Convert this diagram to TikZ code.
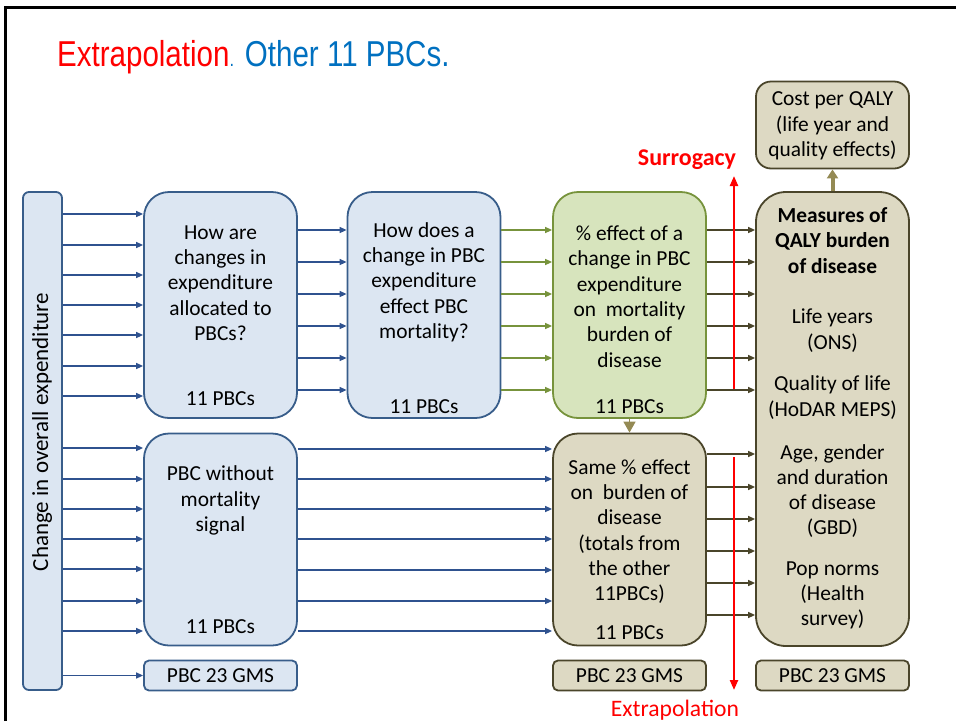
\documentclass[tikz,border=0pt]{standalone}
\usepackage{fontspec}
\setmainfont{Carlito}
\newfontfamily\titlefont[FakeStretch=0.82]{Liberation Sans}
\usetikzlibrary{arrows.meta}
\definecolor{bfill}{HTML}{DCE6F2}
\definecolor{bline}{HTML}{385D8A}
\definecolor{barrow}{HTML}{2F528F}
\definecolor{gfill}{HTML}{D7E4BD}
\definecolor{gline}{HTML}{77933C}
\definecolor{tfill}{HTML}{DDD9C3}
\definecolor{tline}{HTML}{4A452A}
\definecolor{olive}{HTML}{948A54}
\definecolor{tblue}{HTML}{0070C0}
\begin{document}
\begin{tikzpicture}[x=1pt,y=-1pt,
  bigbox/.style={line width=1.8pt, rounded corners=25pt, minimum width=153pt, inner sep=0pt},
  bluebox/.style={bigbox, draw=bline, fill=bfill},
  greenbox/.style={bigbox, draw=gline, fill=gfill},
  tanbox/.style={bigbox, draw=tline, fill=tfill},
  smallbox/.style={line width=1.8pt, rounded corners=5pt, minimum width=153pt, minimum height=30pt, inner sep=0pt},
  txt/.style={font=\fontsize{21.4}{25.3}\selectfont, align=center, inner sep=0pt, text=black},
  barr/.style={draw=barrow, line width=1.5pt, -{Triangle[length=7pt,width=6pt]}},
  garr/.style={draw=gline, line width=1.5pt, -{Triangle[length=7pt,width=6pt]}},
  tarr/.style={draw=tline, line width=1.5pt, -{Triangle[length=7pt,width=6pt]}},
  redarr/.style={draw=red, line width=2.2pt, -{Triangle[length=10pt,width=8pt]}},
]
\useasboundingbox (0,0) rectangle (956,721);
% slide frame
\draw[line width=3pt] (5,721) -- (5,7) -- (956,7);

% title
\node[anchor=base west, inner sep=0pt, font=\titlefont\fontsize{36}{40}\selectfont] (title) at (57,66)
  {\textcolor{red}{Extrapolation}\textcolor{tblue}{\fontsize{20}{20}\selectfont.} \textcolor{tblue}{Other 11 PBCs.}};

% left bar
\node[draw=bline, fill=bfill, line width=1.8pt, rounded corners=6pt, minimum width=39pt, minimum height=498pt, inner sep=0pt] (bar) at (42.5,441) {};
\node[txt, rotate=90, font=\fontsize{23}{25}\selectfont] (bartxt) at (42,432) {Change in overall expenditure};

% boxes
\node[bluebox, minimum height=226pt] (b1) at (220.5,305) {};
\node[bluebox, minimum height=226pt] (b2) at (424,305) {};
\node[greenbox, minimum height=226pt] (b3) at (629.5,305) {};
\node[bluebox, minimum height=212pt] (b4) at (220.5,539.5) {};
\node[tanbox, minimum height=212pt] (b5) at (629.5,539.5) {};
\node[tanbox, rounded corners=30pt, minimum height=454pt] (b6) at (832.5,419) {};
\node[tanbox, rounded corners=15pt, minimum height=87pt] (b7) at (832.5,125) {};

\node[smallbox, draw=bline, fill=bfill] (g1) at (220.5,675.5) {};
\node[smallbox, draw=tline, fill=tfill] (g2) at (629.5,675.5) {};
\node[smallbox, draw=tline, fill=tfill] (g3) at (832.5,675.5) {};

% box texts
\node[txt] (b1t) at (220.5,283) {How are\\changes in\\expenditure\\allocated to\\PBCs?};
\node[txt] (b1n) at (220.5,399) {11 PBCs};
\node[txt] (b2t) at (424,282) {How does a\\change in PBC\\expenditure\\effect PBC\\mortality?};
\node[txt] (b2n) at (424,407) {11 PBCs};
\node[txt] (b3t) at (629.5,296.5) {\% effect of a\\change in PBC\\expenditure\\on\ \ mortality\\burden of\\disease};
\node[txt] (b3n) at (629.5,407) {11 PBCs};
\node[txt] (b4t) at (220.5,500.5) {PBC without\\mortality\\signal};
\node[txt] (b4n) at (220.5,627) {11 PBCs};
\node[txt] (b5t) at (629.5,531.5) {Same \% effect\\on\ \ burden of\\disease\\(totals from\\the other\\11PBCs)};
\node[txt] (b5n) at (629.5,633) {11 PBCs};
\node[txt, font=\fontsize{21.4}{25.3}\selectfont\bfseries] (b6a) at (832.5,240.5) {Measures of\\QALY burden\\of disease};
\node[txt] (b6b) at (832.5,330.5) {Life years\\(ONS)};
\node[txt] (b6c) at (832.5,397.5) {Quality of life\\(HoDAR MEPS)};
\node[txt] (b6d) at (832.5,491) {Age, gender\\and duration\\of disease\\(GBD)};
\node[txt] (b6e) at (832.5,595.5) {Pop norms\\(Health\\survey)};
\node[txt] (b7t) at (832.5,126) {Cost per QALY\\(life year and\\quality effects)};
\node[txt] (g1t) at (220.5,675.5) {PBC 23 GMS};
\node[txt] (g2t) at (629.5,675.5) {PBC 23 GMS};
\node[txt] (g3t) at (832.5,675.5) {PBC 23 GMS};

% arrows bar -> b1
\foreach \y in {214,245,275,305,335,366,396}
  \draw[barr] (bar.east |- 0,\y) -- (b1.west |- 0,\y);
% bar -> b4
\foreach \y in {448,479,509,539,569,601,631}
  \draw[barr] (bar.east |- 0,\y) -- (b4.west |- 0,\y);
\draw[barr] (bar.east |- g1.west) -- (g1.west);
% b1 -> b2, b2 -> b3, b3 -> b6
\foreach \y in {230,262,294,326,358,390} {
  \draw[barr] (b1.east |- 0,\y) -- (b2.west |- 0,\y);
  \draw[garr] (b2.east |- 0,\y) -- (b3.west |- 0,\y);
  \draw[tarr] (b3.east |- 0,\y) -- (b6.west |- 0,\y);
}
% b4 -> b5
\foreach \y in {449,479,509,539,570,601,631}
  \draw[barr] (b4.east |- 0,\y) -- (b5.west |- 0,\y);
% b5 -> b6
\foreach \y in {454,487,519,551,583,615}
  \draw[tarr] (b5.east |- 0,\y) -- (b6.west |- 0,\y);
% b3 -> b5
\draw[draw=olive, line width=1.5pt, -{Triangle[length=11pt,width=12pt]}] (b3.south) -- (b5.north);
% b6 -> b7
\draw[draw=olive, line width=4pt, -{Triangle[length=9pt,width=11pt]}] (b6.north) -- (b7.south);

% surrogacy / extrapolation
\coordinate (s1) at (734,389);
\coordinate (s2) at (734,176);
\draw[redarr] (s1) -- (s2);
\node[txt, text=red, font=\fontsize{24}{28}\selectfont\bfseries] (surr) at (687,160) {Surrogacy};
\coordinate (e1) at (734,457);
\coordinate (e2) at (734,690);
\draw[redarr] (e1) -- (e2);
\node[txt, text=red, font=\fontsize{23.6}{28}\selectfont] (extr) at (675,710) {Extrapolation};
\end{tikzpicture}
\end{document}
